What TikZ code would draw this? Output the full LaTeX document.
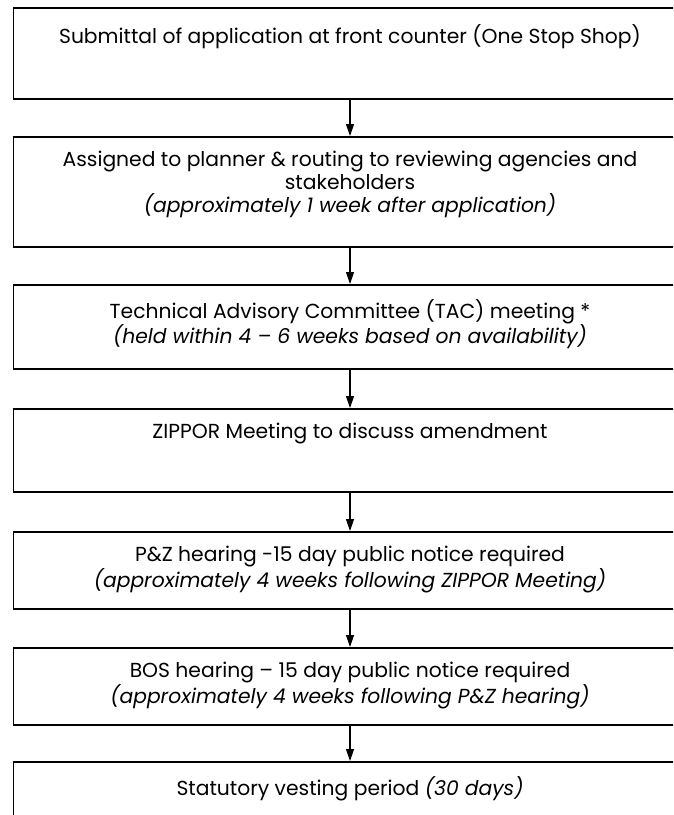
\documentclass[tikz,border=0pt]{standalone}
\usepackage{fontspec}
\setmainfont{Poppins}
\usetikzlibrary{arrows.meta,positioning}

\tikzset{
  stepbox/.style={draw, line width=1.8pt, minimum width=673pt, anchor=north},
  steptext/.style={align=center, anchor=north, font=\fontsize{20.3}{23}\selectfont},
  flow/.style={line width=1.2pt, -{Triangle[length=12pt,width=8pt]}}
}

\begin{document}
\begin{tikzpicture}[x=1pt,y=1pt]
    \clip (0,0) rectangle (673,-815);
    % boxes
    \node[stepbox, minimum height=91pt] (submit) at (350,-7) {};
    \node[stepbox, minimum height=110pt] (assign) at (350,-136) {};
    \node[stepbox, minimum height=84pt] (tac) at (350,-284) {};
    \node[stepbox, minimum height=83pt] (zippor) at (350,-408) {};
    \node[stepbox, minimum height=77pt] (pzhear) at (350,-531) {};
    \node[stepbox, minimum height=77pt] (boshear) at (350,-647) {};
    \node[stepbox, minimum height=80pt] (vesting) at (350,-761) {};
    % texts
    \node[steptext] (submitT) at ([yshift=-14pt]submit.north) {Submittal of application at front counter (One Stop Shop)};
    \node[steptext] (assignT) at ([yshift=-12pt]assign.north) {Assigned to planner \& routing to reviewing agencies and\\ stakeholders\\ \textit{(approximately 1 week after application)}};
    \node[steptext] (tacT) at ([yshift=-12pt]tac.north) {Technical Advisory Committee (TAC) meeting *\\ \textit{(held within 4 -- 6 weeks based on availability)}};
    \node[steptext] (zipporT) at ([yshift=-12pt]zippor.north) {ZIPPOR Meeting to discuss amendment};
    \node[steptext] (pzhearT) at ([yshift=-12pt]pzhear.north) {P\&Z hearing -15 day public notice required\\ \textit{(approximately 4 weeks following ZIPPOR Meeting)}};
    \node[steptext] (boshearT) at ([yshift=-12pt]boshear.north) {BOS hearing -- 15 day public notice required\\ \textit{(approximately 4 weeks following P\&Z hearing)}};
    \node[steptext] (vestingT) at ([yshift=-12pt]vesting.north) {Statutory vesting period \textit{(30 days)}};
    % arrows
    \foreach \a/\b in {submit/assign, assign/tac, tac/zippor, zippor/pzhear, pzhear/boshear, boshear/vesting}
    \draw[flow] (\a) -- (\b);
\end{tikzpicture}
\end{document}
